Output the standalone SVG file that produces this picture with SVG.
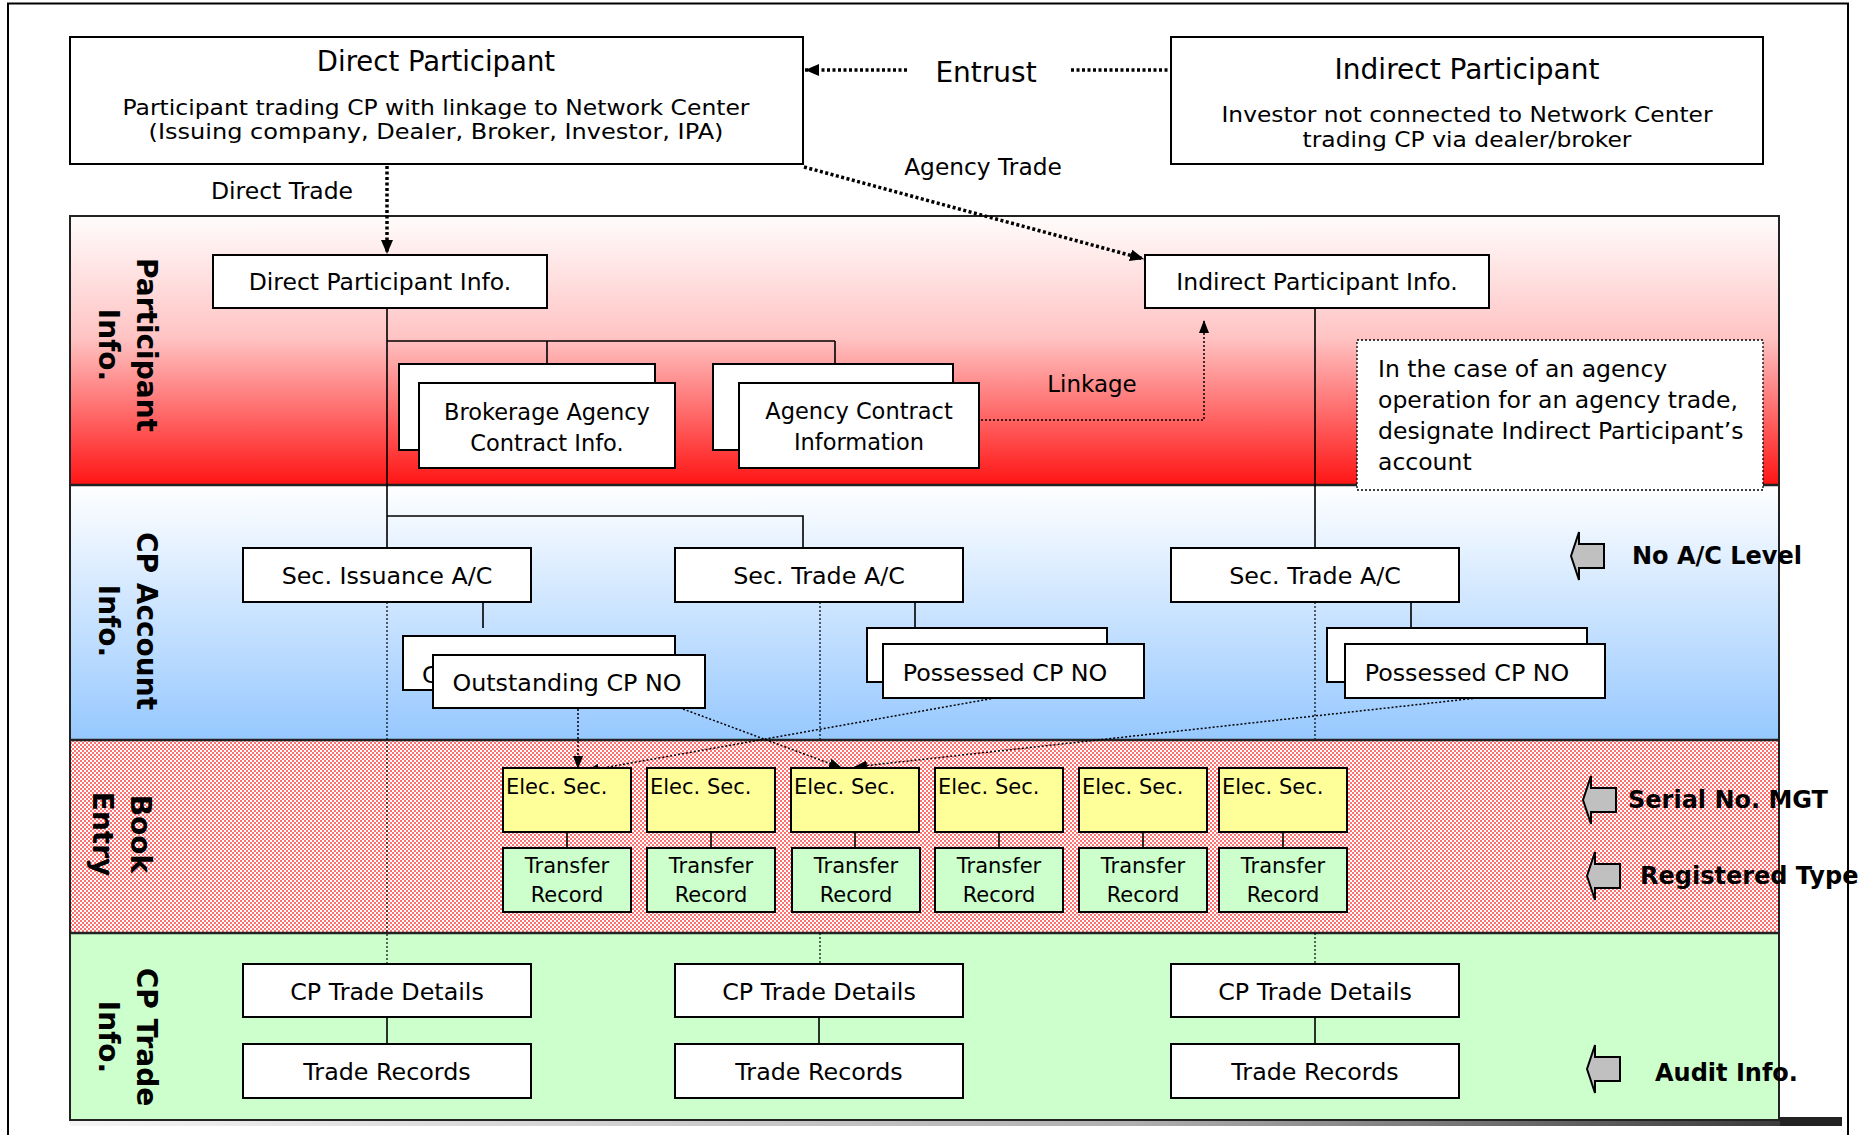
<svg xmlns="http://www.w3.org/2000/svg" width="1868" height="1135" viewBox="0 0 1868 1135">
<defs>
<style>
text{font-family:"DejaVu Sans","Liberation Sans",sans-serif;fill:#000}
.c{text-anchor:middle}
.lbl{font-weight:bold;font-size:28px;text-anchor:middle}
.side{font-weight:bold;font-size:24px}
.box{fill:#fff;stroke:#000;stroke-width:2}
.ye{fill:#ffff99;stroke:#000;stroke-width:2}
.gr{fill:#ccffcc;stroke:#000;stroke-width:2}
.ln{fill:none;stroke:#000;stroke-width:1.6}
.vd{fill:none;stroke:#000;stroke-width:1.2;stroke-dasharray:2 2}
.td{fill:none;stroke:#000;stroke-width:3.5;stroke-dasharray:3 2.5}
.bd{fill:none;stroke:#000;stroke-width:1.5;stroke-dasharray:2 2}
.f235{font-size:23.5px}
.f225{font-size:22.5px}
.f24{font-size:23.8px}
.f21{font-size:21px}
.sub{font-size:20.4px}
.gar{fill:#c0c0c0;stroke:#000;stroke-width:2}
</style>
<linearGradient id="gRed" x1="0" y1="0" x2="0" y2="1">
<stop offset="0" stop-color="#fffcfc"/>
<stop offset="0.45" stop-color="#ffc4c4"/>
<stop offset="1" stop-color="#ff1414"/>
</linearGradient>
<linearGradient id="gBlue" x1="0" y1="0" x2="0" y2="1">
<stop offset="0" stop-color="#ffffff"/>
<stop offset="1" stop-color="#96c8ff"/>
</linearGradient>
<pattern id="pPink" width="4" height="4" patternUnits="userSpaceOnUse">
<rect width="4" height="4" fill="#ffffff"/>
<rect width="2" height="2" fill="#ff7070"/>
<rect x="2" y="2" width="2" height="2" fill="#ff7070"/>
</pattern>
<linearGradient id="gShadow" x1="0" y1="0" x2="1" y2="0">
<stop offset="0" stop-color="#f4f4f4"/>
<stop offset="0.6" stop-color="#b0b0b0"/>
<stop offset="1" stop-color="#303030"/>
</linearGradient>
<marker id="mBig" viewBox="0 0 14 12" refX="14" refY="6" markerWidth="14" markerHeight="12" markerUnits="userSpaceOnUse" orient="auto"><path d="M0,0L14,6L0,12Z" fill="#000"/></marker>
<marker id="mSm" viewBox="0 0 13 10" refX="13" refY="5" markerWidth="13" markerHeight="10" markerUnits="userSpaceOnUse" orient="auto"><path d="M0,0L13,5L0,10Z" fill="#000"/></marker>
<path id="garrow" d="M0,0 L8,-24 L8,-12 L33,-12 L33,12 L8,12 L8,24 Z"/>
</defs>

<rect width="1868" height="1135" fill="#fff"/>
<path d="M8,1135 V3.5 H1848 V1135" fill="none" stroke="#000" stroke-width="2"/>

<g id="bands">
<rect x="70" y="216" width="1709" height="269" fill="url(#gRed)"/>
<rect x="70" y="485" width="1709" height="255" fill="url(#gBlue)"/>
<rect x="70" y="740" width="1709" height="193" fill="url(#pPink)"/>
<rect x="70" y="933" width="1709" height="187" fill="#ccffcc"/>
<rect x="70" y="1121" width="1772" height="5" fill="url(#gShadow)"/>
<rect x="1780" y="1117" width="62" height="9" fill="#222"/>
<rect x="70" y="216" width="1709" height="904" fill="none" stroke="#222" stroke-width="2"/>
<path d="M70,485 H1779 M70,740 H1779 M70,933 H1779" stroke="#222" stroke-width="2.5"/>
</g>

<g id="section-labels">
<text class="lbl" transform="translate(137,345) rotate(90)">Participant</text>
<text class="lbl" transform="translate(99,345) rotate(90)">Info.</text>
<text class="lbl" transform="translate(137,621) rotate(90)">CP Account</text>
<text class="lbl" transform="translate(99,621) rotate(90)">Info.</text>
<text class="lbl" transform="translate(131,834) rotate(90)">Book</text>
<text class="lbl" transform="translate(93,834) rotate(90)">Entry</text>
<text class="lbl" transform="translate(137,1037) rotate(90)">CP Trade</text>
<text class="lbl" transform="translate(99,1037) rotate(90)">Info.</text>
</g>

<g id="connectors">
<path class="td" d="M907,70 H805" marker-end="url(#mBig)"/>
<path class="td" d="M1071,70 H1171"/>
<text class="c" x="986" y="82" font-size="28">Entrust</text>
<path class="td" d="M387,166 V254" marker-end="url(#mBig)"/>
<text class="c" x="282" y="199" font-size="23.5">Direct Trade</text>
<path class="td" d="M804,167 L1144,259" marker-end="url(#mBig)"/>
<text class="c" x="983" y="175" font-size="23.3">Agency Trade</text>
<path class="bd" d="M981,420 H1204 V320" marker-end="url(#mSm)"/>
<text class="c" x="1092" y="392" font-size="23">Linkage</text>
<path class="ln" d="M387,308 V548 M387,341 H835 M547,341 V364 M835,341 V364 M387,516 H803 V548 M1315,308 V548 M483,602 V628 M915,602 V628 M1411,602 V628"/>
<path class="ln" d="M567,832 V848 M711,832 V848 M855,832 V848 M999,832 V848 M1143,832 V848 M1283,832 V848"/>
<path class="ln" d="M387,1017 V1044 M819,1017 V1044 M1315,1017 V1044"/>
<path class="vd" d="M387,602 V964 M820,602 V739 M820,933 V964 M1315,602 V739 M1315,933 V964"/>
<path class="bd" d="M578,709 V769" marker-end="url(#mSm)"/>
<path class="bd" d="M995,698 L586,771" marker-end="url(#mSm)"/>
<path class="bd" d="M683,709 L842,768" marker-end="url(#mSm)"/>
<path class="bd" d="M1477,698 L854,767" marker-end="url(#mSm)"/>
</g>

<g id="direct-participant">
<rect class="box" x="70" y="37" width="733" height="127"/>
<text class="c" x="436" y="71" font-size="27.5">Direct Participant</text>
<text class="c sub" x="436" y="114.5" textLength="627" lengthAdjust="spacingAndGlyphs">Participant trading CP with linkage to Network Center</text>
<text class="c sub" x="436" y="138.5" textLength="575" lengthAdjust="spacingAndGlyphs">(Issuing company, Dealer, Broker, Investor, IPA)</text>
</g>
<g id="indirect-participant">
<rect class="box" x="1171" y="37" width="592" height="127"/>
<text class="c" x="1467" y="79" font-size="28">Indirect Participant</text>
<text class="c sub" x="1467" y="122" textLength="491" lengthAdjust="spacingAndGlyphs">Investor not connected to Network Center</text>
<text class="c sub" x="1467" y="146.5" textLength="329" lengthAdjust="spacingAndGlyphs">trading CP via dealer/broker</text>
</g>

<g id="direct-participant-info">
<rect class="box" x="213" y="255" width="334" height="53"/>
<text class="c f235" x="380" y="290">Direct Participant Info.</text>
</g>
<g id="indirect-participant-info">
<rect class="box" x="1145" y="255" width="344" height="53"/>
<text class="c f235" x="1317" y="290">Indirect Participant Info.</text>
</g>
<g id="brokerage-agency-contract">
<rect class="box" x="399" y="364" width="256" height="86"/>
<rect class="box" x="419" y="383" width="256" height="85"/>
<text class="c f225" x="547" y="420">Brokerage Agency</text>
<text class="c f225" x="547" y="451">Contract Info.</text>
</g>
<g id="agency-contract-info">
<rect class="box" x="713" y="364" width="240" height="86"/>
<rect class="box" x="739" y="383" width="240" height="85"/>
<text class="c f225" x="859" y="419">Agency Contract</text>
<text class="c f225" x="859" y="450">Information</text>
</g>
<g id="agency-note">
<rect x="1357" y="340" width="406" height="150" fill="#fff" stroke="#000" stroke-width="1.3" stroke-dasharray="2 2"/>
<text class="f235" x="1378" y="377">In the case of an agency</text>
<text class="f235" x="1378" y="408">operation for an agency trade,</text>
<text class="f235" x="1378" y="439">designate Indirect Participant’s</text>
<text class="f235" x="1378" y="470">account</text>
</g>

<g id="sec-issuance-ac">
<rect class="box" x="243" y="548" width="288" height="54"/>
<text class="c f24" x="387" y="584">Sec. Issuance A/C</text>
</g>
<g id="sec-trade-ac-1">
<rect class="box" x="675" y="548" width="288" height="54"/>
<text class="c f24" x="819" y="584">Sec. Trade A/C</text>
</g>
<g id="sec-trade-ac-2">
<rect class="box" x="1171" y="548" width="288" height="54"/>
<text class="c f24" x="1315" y="584">Sec. Trade A/C</text>
</g>
<g id="outstanding-cp-no">
<rect class="box" x="403" y="636" width="272" height="54"/>
<text class="f24" x="422" y="683">C</text>
<rect class="box" x="433" y="655" width="272" height="53"/>
<text class="c f24" x="567" y="691">Outstanding CP NO</text>
</g>
<g id="possessed-cp-no-1">
<rect class="box" x="867" y="628" width="240" height="54"/>
<rect class="box" x="883" y="644" width="261" height="54"/>
<text class="c f24" x="1005" y="681">Possessed CP NO</text>
</g>
<g id="possessed-cp-no-2">
<rect class="box" x="1327" y="628" width="260" height="54"/>
<rect class="box" x="1345" y="644" width="260" height="54"/>
<text class="c f24" x="1467" y="681">Possessed CP NO</text>
</g>

<g id="book-entry-1">
<rect class="ye" x="503" y="768" width="128" height="64"/>
<text class="f21" x="506" y="794">Elec. Sec.</text>
<rect class="gr" x="503" y="848" width="128" height="64"/>
<text class="c f21" x="567" y="873">Transfer</text>
<text class="c f21" x="567" y="902">Record</text>
</g>
<g id="book-entry-2">
<rect class="ye" x="647" y="768" width="128" height="64"/>
<text class="f21" x="650" y="794">Elec. Sec.</text>
<rect class="gr" x="647" y="848" width="128" height="64"/>
<text class="c f21" x="711" y="873">Transfer</text>
<text class="c f21" x="711" y="902">Record</text>
</g>
<g id="book-entry-3">
<rect class="ye" x="791" y="768" width="128" height="64"/>
<text class="f21" x="794" y="794">Elec. Sec.</text>
<rect class="gr" x="792" y="848" width="128" height="64"/>
<text class="c f21" x="856" y="873">Transfer</text>
<text class="c f21" x="856" y="902">Record</text>
</g>
<g id="book-entry-4">
<rect class="ye" x="935" y="768" width="128" height="64"/>
<text class="f21" x="938" y="794">Elec. Sec.</text>
<rect class="gr" x="935" y="848" width="128" height="64"/>
<text class="c f21" x="999" y="873">Transfer</text>
<text class="c f21" x="999" y="902">Record</text>
</g>
<g id="book-entry-5">
<rect class="ye" x="1079" y="768" width="128" height="64"/>
<text class="f21" x="1082" y="794">Elec. Sec.</text>
<rect class="gr" x="1079" y="848" width="128" height="64"/>
<text class="c f21" x="1143" y="873">Transfer</text>
<text class="c f21" x="1143" y="902">Record</text>
</g>
<g id="book-entry-6">
<rect class="ye" x="1219" y="768" width="128" height="64"/>
<text class="f21" x="1222" y="794">Elec. Sec.</text>
<rect class="gr" x="1219" y="848" width="128" height="64"/>
<text class="c f21" x="1283" y="873">Transfer</text>
<text class="c f21" x="1283" y="902">Record</text>
</g>

<g id="cp-trade-1">
<rect class="box" x="243" y="964" width="288" height="53"/>
<text class="c f24" x="387" y="1000">CP Trade Details</text>
<rect class="box" x="243" y="1044" width="288" height="54"/>
<text class="c f24" x="387" y="1080">Trade Records</text>
</g>
<g id="cp-trade-2">
<rect class="box" x="675" y="964" width="288" height="53"/>
<text class="c f24" x="819" y="1000">CP Trade Details</text>
<rect class="box" x="675" y="1044" width="288" height="54"/>
<text class="c f24" x="819" y="1080">Trade Records</text>
</g>
<g id="cp-trade-3">
<rect class="box" x="1171" y="964" width="288" height="53"/>
<text class="c f24" x="1315" y="1000">CP Trade Details</text>
<rect class="box" x="1171" y="1044" width="288" height="54"/>
<text class="c f24" x="1315" y="1080">Trade Records</text>
</g>

<g id="no-ac-level">
<use href="#garrow" x="1571" y="556" class="gar"/>
<text class="side" x="1632" y="564">No A/C Level</text>
</g>
<g id="serial-no-mgt">
<use href="#garrow" x="1583" y="800" class="gar"/>
<text class="side" x="1628" y="808">Serial No. MGT</text>
</g>
<g id="registered-type">
<use href="#garrow" x="1587" y="876" class="gar"/>
<text class="side" x="1640" y="884">Registered Type</text>
</g>
<g id="audit-info">
<use href="#garrow" x="1587" y="1069" class="gar"/>
<text class="side" x="1655" y="1081">Audit Info.</text>
</g>
</svg>
